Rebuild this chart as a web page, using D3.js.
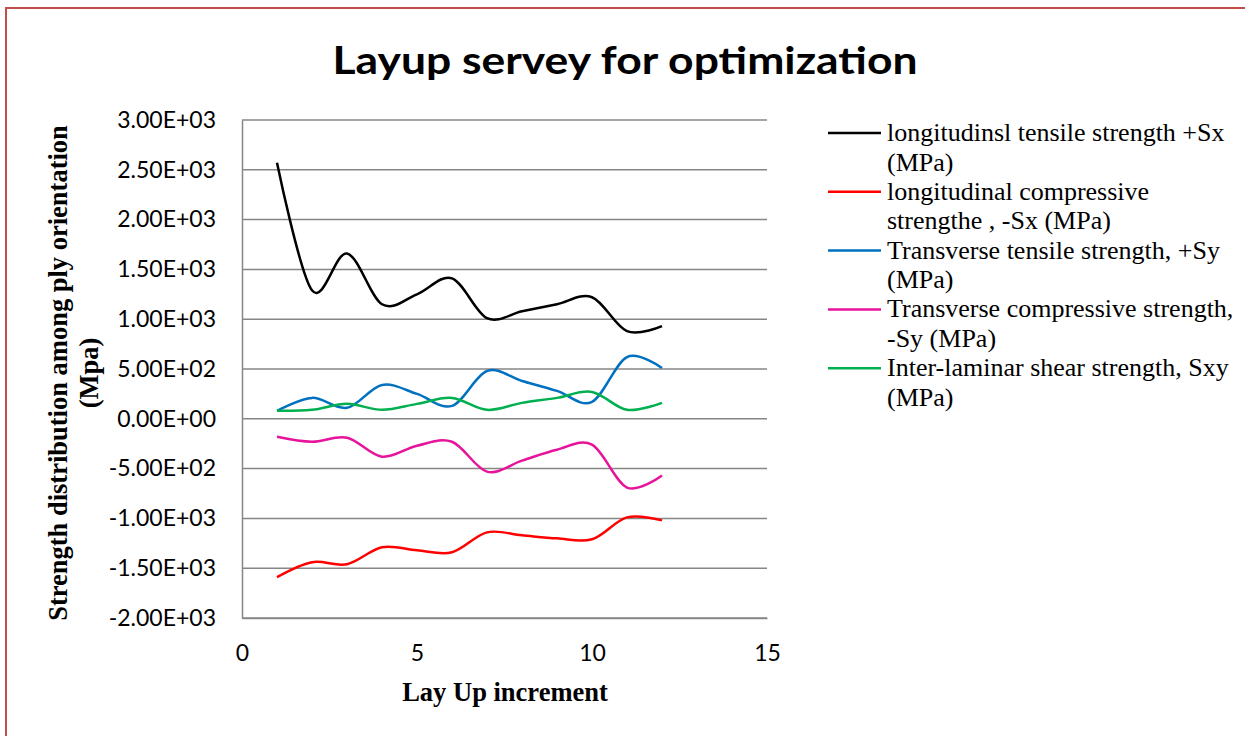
<!DOCTYPE html>
<html>
<head>
<meta charset="utf-8">
<script src="https://cdn.jsdelivr.net/npm/d3@7"></script>
<style>
  body { margin: 0; background: #fff; }
  svg { display: block; }
</style>
</head>
<body>
<div id="chart"></div>
<script>
// values
const layups = [1, 2, 3, 4, 5, 6, 7, 8, 9, 10, 11, 12];
const tensileSx = [2570, 1290, 1660, 1150, 1250, 1410, 1010, 1080, 1150, 1220, 880, 930];
const compressiveSx = [-1590, -1440, -1460, -1290, -1320, -1340, -1140, -1170, -1200, -1210, -990, -1020];
const tensileSy = [80, 210, 110, 340, 250, 130, 480, 380, 280, 170, 620, 510];
const compressiveSy = [-180, -230, -190, -380, -270, -230, -530, -420, -310, -260, -690, -570];
const shearSxy = [80, 90, 150, 90, 150, 210, 90, 160, 210, 270, 90, 160];

const xTicks = [0, 5, 10, 15];
const yTicks = [3000, 2500, 2000, 1500, 1000, 500, 0, -500, -1000, -1500, -2000];

const seriesNames = [
    ['longitudinsl tensile strength +Sx', '(MPa)'],
    ['longitudinal compressive', 'strengthe , -Sx (MPa)'],
    ['Transverse tensile strength, +Sy', '(MPa)'],
    ['Transverse compressive strength,', '-Sy (MPa)'],
    ['Inter-laminar shear strength, Sxy', '(MPa)']
];
const seriesValues = [tensileSx, compressiveSx, tensileSy, compressiveSy, shearSxy];
const seriesColors = ['#000000', '#ff0000', '#0070c0', '#e6139b', '#00b050'];

let width = 1245,
    height = 736,
    plot = { left: 242, right: 767, top: 120, bottom: 618 },
    gridColor = '#868686',
    serif = '"Liberation Serif", "Times New Roman", serif',
    sans = 'Lato, "Open Sans", sans-serif',
    svg, xScale, yScale, line;

svg = d3.select('#chart')
    .append('svg')
    .attr('width', width)
    .attr('height', height);

// outer frame
svg.append('rect')
    .attr('x', 6)
    .attr('y', 8)
    .attr('width', width + 10)
    .attr('height', height + 10)
    .attr('fill', 'none')
    .attr('stroke', '#c0504d')
    .attr('stroke-width', 2);

svg.append('text')
    .attr('x', 625)
    .attr('y', 74)
    .attr('text-anchor', 'middle')
    .attr('font-family', sans)
    .attr('font-weight', 'bold')
    .attr('font-size', 38)
    .attr('textLength', 585)
    .attr('lengthAdjust', 'spacingAndGlyphs')
    .text('Layup servey for optimization');

xScale = d3.scaleLinear()
    .domain([0, 15])
    .range([plot.left, plot.right]);

yScale = d3.scaleLinear()
    .domain([-2000, 3000])
    .range([plot.bottom, plot.top]);

// gridlines
svg.append('g')
    .selectAll('line')
    .data(yTicks)
    .enter()
    .append('line')
    .attr('x1', plot.left)
    .attr('x2', plot.right)
    .attr('y1', d => yScale(d))
    .attr('y2', d => yScale(d))
    .attr('stroke', gridColor)
    .attr('stroke-width', 1.5);

// y axis, excel-style scientific labels with a plain hyphen
let yAxis = svg.append('g')
    .attr('transform', `translate(${plot.left}, 0)`)
    .call(d3.axisLeft(yScale)
        .tickValues(yTicks)
        .tickSize(0)
        .tickPadding(26)
        .tickFormat(d => {
            let s = d.toExponential(2).toUpperCase();
            return s.replace(/E([+-])(\d)$/, 'E$10$2');
        }));
yAxis.select('.domain').attr('stroke', gridColor).attr('stroke-width', 1.5);
yAxis.selectAll('text')
    .attr('font-family', sans)
    .attr('font-size', 23)
    .attr('fill', '#000');

// x axis
let xAxis = svg.append('g')
    .attr('transform', `translate(0, ${plot.bottom})`)
    .call(d3.axisBottom(xScale)
        .tickValues(xTicks)
        .tickSize(0)
        .tickPadding(27));
xAxis.select('.domain').attr('stroke', gridColor).attr('stroke-width', 1.5);
xAxis.selectAll('text')
    .attr('font-family', sans)
    .attr('font-size', 23)
    .attr('fill', '#000');

svg.append('text')
    .attr('x', 505)
    .attr('y', 701)
    .attr('text-anchor', 'middle')
    .attr('font-family', serif)
    .attr('font-weight', 'bold')
    .attr('font-size', 26.5)
    .text('Lay Up increment');

let yTitle = svg.append('text')
    .attr('transform', 'translate(67, 373) rotate(-90)')
    .attr('text-anchor', 'middle')
    .attr('font-family', serif)
    .attr('font-weight', 'bold')
    .attr('font-size', 26.5);
yTitle.append('tspan').attr('x', 0).attr('dy', 0).text('Strength distribution among ply orientation');
yTitle.append('tspan').attr('x', 0).attr('dy', 31).text('(Mpa)');

// series
line = d3.line()
    .x(d => xScale(d[0]))
    .y(d => yScale(d[1]))
    .curve(d3.curveCatmullRom.alpha(0));

svg.append('g')
    .selectAll('path')
    .data(seriesValues)
    .enter()
    .append('path')
    .attr('d', vals => line(layups.map((x, i) => [x, vals[i]])))
    .attr('fill', 'none')
    .attr('stroke', (d, i) => seriesColors[i])
    .attr('stroke-width', 2.5);

// legend
let legend = svg.append('g')
    .selectAll('g')
    .data(seriesNames)
    .enter()
    .append('g')
    .attr('transform', (d, i) => `translate(828, ${133 + i * 58.8})`);

legend.append('line')
    .attr('x1', 0)
    .attr('x2', 53)
    .attr('stroke', (d, i) => seriesColors[i])
    .attr('stroke-width', 2.5);

legend.append('text')
    .attr('font-family', serif)
    .attr('font-size', 26)
    .selectAll('tspan')
    .data(d => d)
    .enter()
    .append('tspan')
    .attr('x', 59)
    .attr('y', (d, j) => 8 + j * 29.5)
    .text(d => d);
</script>
</body>
</html>
